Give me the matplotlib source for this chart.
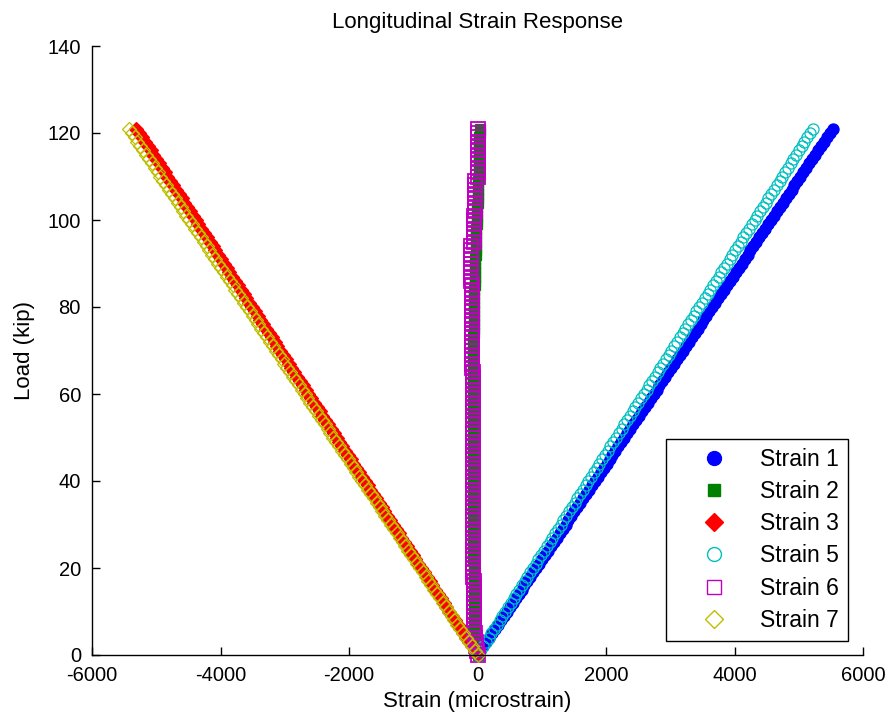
import matplotlib
matplotlib.use("Agg")
import matplotlib.pyplot as plt

plt.rcParams["font.family"] = ["Liberation Sans", "DejaVu Sans"]
plt.rcParams["axes.unicode_minus"] = False

# Applied load (kip) at each recorded step
load = [0, 1, 2, 3, 4, 5, 6, 7, 8, 9, 10, 11, 12, 13, 14, 15, 16, 17, 18, 19,
        20, 21, 22, 23, 24, 25, 26, 27, 28, 29, 30, 31, 32, 33, 34, 35, 36, 37, 38, 39,
        40, 41, 42, 43, 44, 45, 46, 47, 48, 49, 50, 51, 52, 53, 54, 55, 56, 57, 58, 59,
        60, 61, 62, 63, 64, 65, 66, 67, 68, 69, 70, 71, 72, 73, 74, 75, 76, 77, 78, 79,
        80, 81, 82, 83, 84, 85, 86, 87, 88, 89, 90, 91, 92, 93, 94, 95, 96, 97, 98, 99,
        100, 101, 102, 103, 104, 105, 106, 107, 108, 109, 110, 111, 112, 113, 114, 115,
        116, 117, 118, 119, 120, 121]

# Gauge readings (microstrain)
strain_1 = [0, 46, 91, 137, 183, 228, 274, 320, 365, 411, 457, 502, 548, 594, 640, 685,
            731, 777, 822, 868, 914, 959, 1005, 1051, 1096, 1142, 1188, 1233, 1279, 1325,
            1370, 1416, 1462, 1507, 1553, 1599, 1644, 1690, 1736, 1782, 1827, 1873, 1919,
            1964, 2010, 2056, 2101, 2147, 2193, 2238, 2284, 2330, 2375, 2421, 2467, 2512,
            2558, 2604, 2649, 2695, 2741, 2786, 2832, 2878, 2924, 2969, 3015, 3061, 3106,
            3152, 3198, 3243, 3289, 3335, 3380, 3426, 3472, 3517, 3563, 3609, 3654, 3700,
            3746, 3791, 3837, 3883, 3928, 3974, 4020, 4066, 4111, 4157, 4203, 4248, 4294,
            4340, 4385, 4431, 4477, 4522, 4568, 4614, 4659, 4705, 4751, 4796, 4842, 4888,
            4933, 4979, 5025, 5070, 5116, 5162, 5208, 5253, 5299, 5345, 5390, 5436, 5482,
            5527]
strain_2 = [0, -9, -18, -25, -32, -38, -44, -47, -50, -52,
            -54, -56, -57, -57, -58, -59, -60, -60, -61, -61,
            -62, -62, -63, -63, -64, -64, -64, -65, -65, -65,
            -66, -66, -66, -67, -67, -67, -68, -68, -68, -69,
            -69, -69, -70, -70, -70, -71, -71, -71, -72, -72,
            -72, -73, -73, -73, -73, -74, -74, -74, -75, -75,
            -75, -75, -76, -76, -76, -77, -77, -76, -75, -73,
            -70, -68, -66, -64, -62, -60, -58, -56, -55, -53,
            -52, -51, -50, -48, -47, -45, -44, -42, -40, -38,
            -35, -33, -30, -28, -26, -24, -22, -20, -18, -15,
            -12, -9, -6, -3, 0, 3, 6, 9, 12, 14,
            16, 18, 20, 22, 24, 25, 27, 28, 30, 31,
            32, 34]
strain_3 = [0, -44, -88, -132, -175, -219, -263, -307, -351, -395, -439, -483, -526, -570,
            -614, -658, -702, -746, -790, -834, -877, -921, -965, -1009, -1053, -1097,
            -1141, -1184, -1228, -1272, -1316, -1360, -1404, -1448, -1492, -1535, -1579,
            -1623, -1667, -1711, -1755, -1799, -1843, -1886, -1930, -1974, -2018, -2062,
            -2106, -2150, -2194, -2237, -2281, -2325, -2369, -2413, -2457, -2501, -2544,
            -2588, -2632, -2676, -2720, -2764, -2808, -2852, -2895, -2939, -2983, -3027,
            -3071, -3115, -3159, -3203, -3246, -3290, -3334, -3378, -3422, -3466, -3510,
            -3553, -3597, -3641, -3685, -3729, -3773, -3817, -3861, -3904, -3948, -3992,
            -4036, -4080, -4124, -4168, -4212, -4255, -4299, -4343, -4387, -4431, -4475,
            -4519, -4562, -4606, -4650, -4694, -4738, -4782, -4826, -4870, -4913, -4957,
            -5001, -5045, -5089, -5133, -5177, -5221, -5264, -5308]
strain_5 = [0, 43, 86, 129, 173, 216, 259, 302, 345, 388, 431, 474, 518, 561, 604, 647,
            690, 733, 776, 819, 863, 906, 949, 992, 1035, 1078, 1121, 1165, 1208, 1251,
            1294, 1337, 1380, 1423, 1466, 1510, 1553, 1596, 1639, 1682, 1725, 1768, 1811,
            1855, 1898, 1941, 1984, 2027, 2070, 2113, 2157, 2200, 2243, 2286, 2329, 2372,
            2415, 2458, 2502, 2545, 2588, 2631, 2674, 2717, 2760, 2803, 2847, 2890, 2933,
            2976, 3019, 3062, 3105, 3148, 3192, 3235, 3278, 3321, 3364, 3407, 3450, 3494,
            3537, 3580, 3623, 3666, 3709, 3752, 3795, 3839, 3882, 3925, 3968, 4011, 4054,
            4097, 4140, 4184, 4227, 4270, 4313, 4356, 4399, 4442, 4485, 4529, 4572, 4615,
            4658, 4701, 4744, 4787, 4831, 4874, 4917, 4960, 5003, 5046, 5089, 5132, 5176,
            5219]
strain_6 = [0, -11, -22, -30, -38, -43, -48, -51, -54, -56,
            -58, -59, -60, -60, -61, -61, -62, -62, -63, -63,
            -63, -63, -64, -64, -64, -64, -65, -65, -65, -65,
            -66, -66, -66, -66, -67, -67, -67, -67, -68, -68,
            -68, -68, -69, -69, -69, -69, -70, -70, -70, -70,
            -71, -71, -71, -71, -72, -72, -72, -72, -73, -73,
            -73, -73, -74, -74, -74, -74, -80, -82, -84, -85,
            -86, -87, -88, -88, -89, -89, -90, -90, -91, -91,
            -92, -92, -93, -93, -93, -93, -94, -94, -95, -95,
            -95, -95, -96, -96, -96, -60, -58, -55, -54, -52,
            -48, -47, -45, -44, -42, -41, -40, -39, -38, -38,
            2, 4, 5, 7, 8, 9, 10, 11, 12, 13,
            14, 15]
strain_7 = [0, -45, -90, -135, -179, -224, -269, -314, -359, -404, -449, -493, -538, -583,
            -628, -673, -718, -763, -807, -852, -897, -942, -987, -1032, -1077, -1122,
            -1166, -1211, -1256, -1301, -1346, -1391, -1436, -1480, -1525, -1570, -1615,
            -1660, -1705, -1750, -1794, -1839, -1884, -1929, -1974, -2019, -2064, -2108,
            -2153, -2198, -2243, -2288, -2333, -2378, -2422, -2467, -2512, -2557, -2602,
            -2647, -2692, -2736, -2781, -2826, -2871, -2916, -2961, -3006, -3050, -3095,
            -3140, -3185, -3230, -3275, -3320, -3365, -3409, -3454, -3499, -3544, -3589,
            -3634, -3679, -3723, -3768, -3813, -3858, -3903, -3948, -3993, -4037, -4082,
            -4127, -4172, -4217, -4262, -4307, -4351, -4396, -4441, -4486, -4531, -4576,
            -4621, -4665, -4710, -4755, -4800, -4845, -4890, -4935, -4979, -5024, -5069,
            -5114, -5159, -5204, -5249, -5293, -5338, -5383, -5428]

labels = ["Strain 1", "Strain 2", "Strain 3", "Strain 5", "Strain 6", "Strain 7"]
x_ticks = [-6000, -4000, -2000, 0, 2000, 4000, 6000]
y_ticks = [0, 20, 40, 60, 80, 100, 120, 140]

fig = plt.figure(figsize=(8.86, 7.19), dpi=100)
ax = fig.add_axes([92 / 886, 1 - 655 / 719, 771 / 886, 609 / 719])

series = [
    (strain_1, dict(marker="o", color=(0, 0, 1), mfc=(0, 0, 1), ms=8, mew=0.9)),
    (strain_2, dict(marker="s", color=(0, 0.5, 0), mfc=(0, 0.5, 0), ms=7.5, mew=0.9)),
    (strain_3, dict(marker="D", color=(1, 0, 0), mfc=(1, 0, 0), ms=7.5, mew=0.9)),
    (strain_5, dict(marker="o", color=(0, 0.75, 0.75), mfc="none", ms=8, mew=0.9)),
    (strain_6, dict(marker="s", color=(0.75, 0, 0.75), mfc="none", ms=10.5, mew=1.3)),
    (strain_7, dict(marker="D", color=(0.75, 0.75, 0), mfc="none", ms=7.5, mew=0.9)),
]
for (vals, style), lab in zip(series, labels):
    ax.plot(vals, load, linestyle="none", label=lab, clip_on=False, **style)

ax.set_xlim(-6000, 6000)
ax.set_ylim(0, 140)
ax.set_xticks(x_ticks)
ax.set_yticks(y_ticks)
ax.spines["top"].set_visible(False)
ax.spines["right"].set_visible(False)
for s in ("left", "bottom"):
    ax.spines[s].set_linewidth(1.0)
ax.tick_params(direction="in", length=6, width=1, labelsize=14.5, pad=8)

ax.set_title("Longitudinal Strain Response", fontsize=16, pad=13)
ax.set_xlabel("Strain (microstrain)", fontsize=16, labelpad=4)
ax.set_ylabel("Load (kip)", fontsize=16, labelpad=9)

leg = ax.legend(loc="lower right", bbox_to_anchor=(0.981, 0.023), borderaxespad=0,
                fontsize=16.5, frameon=True, fancybox=False, edgecolor="black",
                framealpha=1, borderpad=0.4, labelspacing=0.4, handletextpad=0.3,
                handlelength=3.4, markerscale=1.0)
leg.get_frame().set_linewidth(1.0)
# uniform marker size for all legend keys
for h, sz in zip(leg.legend_handles, [10, 9, 9, 10, 10, 9]):
    h.set_markersize(sz)
    h.set_markeredgewidth(1.0)

fig.savefig("out.png", dpi=100)
